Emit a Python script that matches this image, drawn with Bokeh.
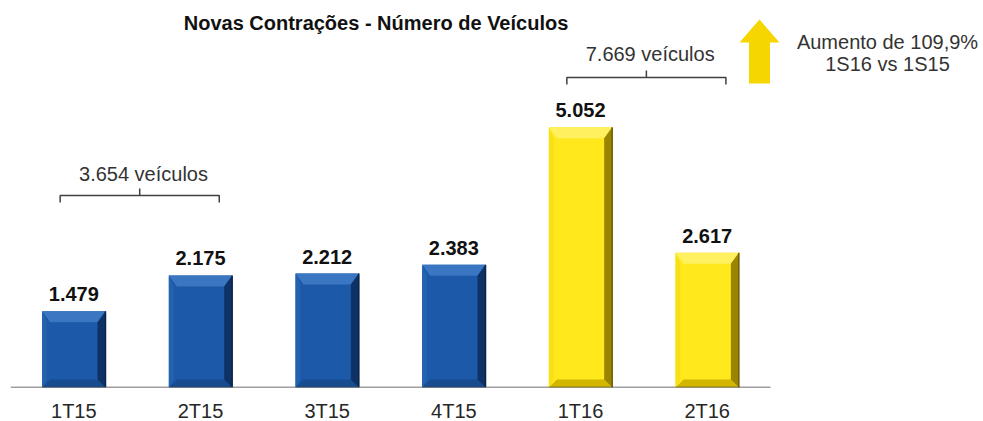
import numpy as np
from bokeh.plotting import figure
from bokeh.models import Range1d, FixedTicker, Label, ColumnDataSource
from bokeh.embed import file_html
from bokeh.resources import INLINE
from bokeh.core.properties import value

# ---------------- data ----------------
categories = ["1T15", "2T15", "3T15", "4T15", "1T16", "2T16"]
vehicles = [1479, 2175, 2212, 2383, 5052, 2617]
value_labels = ["1.479", "2.175", "2.212", "2.383", "5.052", "2.617"]
year_group = ["2015", "2015", "2015", "2015", "2016", "2016"]
bracket_pairs = [(0, 1), (4, 5)]
bracket_labels = ["3.654 veículos", "7.669 veículos"]
title_text = "Novas Contrações - Número de Veículos"
note_lines = ["Aumento de 109,9%", "1S16 vs 1S15"]

# ---------------- layout / style ----------------
FONT = "Liberation Sans"
PX_X = 126.67          # pixels per category slot
PX_Y = 0.0515          # pixels per vehicle
FRAME_W, FRAME_H = 973, 379
BAR_W = 0.5
BEVEL_PX = 8

def dx(px):
    return px / PX_X

def dy(px):
    return px / PX_Y

# convert reference-picture pixel positions (annotation placement only)
def ix(px):
    return (px - 10) / PX_X

def iy(py):
    return (387 - py) / PX_Y

palette = {
    "2015": dict(body="#1D59A9", top="#3A76C2", left="#2462B0", right="#0E3266", bottom="#174C8F", edge="#0A244A"),
    "2016": dict(body="#FFE81C", top="#FFF060", left="#F8E016", right="#9A8400", bottom="#D2B600", edge="#6E5E00"),
}

p = figure(frame_width=FRAME_W, frame_height=FRAME_H,
           x_range=Range1d(0, FRAME_W / PX_X), y_range=Range1d(0, FRAME_H / PX_Y),
           output_backend="svg", toolbar_location=None, y_axis_location=None,
           min_border_left=10, min_border_right=0, min_border_top=8, min_border_bottom=34,
           background_fill_color="white", border_fill_color="white")
p.outline_line_color = None
p.xgrid.visible = False
p.ygrid.visible = False

centers = [i + 0.5 for i in range(len(categories))]

# ---------------- bars with bevel ----------------
bx, by = dx(BEVEL_PX), dy(BEVEL_PX)
byt = dy(BEVEL_PX + 3)
for c, v, g in zip(centers, vehicles, year_group):
    col = palette[g]
    x0, x1 = c - BAR_W / 2, c + BAR_W / 2
    y0, y1 = 0.0, float(v)
    p.patch([x0, x1, x1, x0], [y0, y0, y1, y1], fill_color=col["body"], line_color=None)
    # top bevel
    p.patch([x0, x1, x1 - bx, x0 + bx], [y1, y1, y1 - byt, y1 - byt], fill_color=col["top"], line_color=None)
    # left bevel
    p.patch([x0, x0, x0 + bx * 0.6, x0 + bx * 0.6], [y0, y1, y1 - byt, y0 + by], fill_color=col["left"], line_color=None)
    # bottom bevel
    p.patch([x0, x1, x1 - bx, x0 + bx], [y0, y0, y0 + by, y0 + by], fill_color=col["bottom"], line_color=None)
    # right bevel
    p.patch([x1, x1, x1 - bx, x1 - bx], [y0, y1, y1 - byt, y0 + by], fill_color=col["right"], line_color=None)
    # thin dark edge on right
    p.segment(x0=[x1], y0=[y0], x1=[x1], y1=[y1], line_color=col["edge"], line_width=1.5)

# value labels
src = ColumnDataSource(dict(x=centers, y=vehicles, t=value_labels))
p.text(x="x", y="y", text="t", source=src, text_align="center", text_baseline="bottom",
       y_offset=-10, text_font=value(FONT), text_font_style="bold", text_font_size="20px",
       text_color="#111111")

# baseline
p.segment(x0=[0], y0=[0], x1=[len(categories)], y1=[0], line_color="#404040", line_width=1.5)

# x axis
p.xaxis.ticker = FixedTicker(ticks=centers)
p.xaxis.major_label_overrides = {c: lab for c, lab in zip(centers, categories)}
p.xaxis.axis_line_color = None
p.xaxis.major_tick_line_color = None
p.xaxis.minor_tick_line_color = None
p.xaxis.major_label_standoff = 6
p.xaxis.major_label_text_font = FONT
p.xaxis.major_label_text_font_size = "20px"
p.xaxis.major_label_text_color = "#262626"

# ---------------- brackets ----------------
bracket_y = [iy(195), iy(77)]
label_y = [iy(173.5), iy(53.5)]
half = 0.628
tick = dy(7)
for (i, j), lab, yb, yl in zip(bracket_pairs, bracket_labels, bracket_y, label_y):
    mid = (centers[i] + centers[j]) / 2 + 0.02
    left, right = mid - half, mid + half
    p.multi_line(xs=[[left, left, right, right], [mid, mid]],
                 ys=[[yb - tick, yb, yb, yb - tick], [yb, yb + tick]],
                 line_color="#404040", line_width=1.5)
    p.add_layout(Label(x=mid + 0.03, y=yl, text=lab, text_align="center",
                       text_baseline="middle", text_font=FONT, text_font_size="20px",
                       text_color="#333333"))

# ---------------- title ----------------
p.add_layout(Label(x=ix(375.5), y=iy(22.5), text=title_text, text_align="center",
                   text_baseline="middle", text_font=FONT, text_font_style="bold",
                   text_font_size="20px", text_color="#111111"))

# ---------------- arrow + note ----------------
ax = ix(759)
head_hw, shaft_hw = dx(20), dx(10.5)
tip, head_base, bottom = iy(19), iy(42), iy(83)
p.patch([ax - shaft_hw, ax - shaft_hw, ax - head_hw, ax, ax + head_hw, ax + shaft_hw, ax + shaft_hw],
        [bottom, head_base, head_base, tip, head_base, head_base, bottom],
        fill_color="#F5D600", line_color=None)

for line, cy_px in zip(note_lines, [41, 63]):
    p.add_layout(Label(x=ix(887), y=iy(cy_px), text=line, text_align="center",
                       text_baseline="middle", text_font=FONT, text_font_size="20px",
                       text_color="#333333"))

open("out.html", "w").write(file_html(p, INLINE))
